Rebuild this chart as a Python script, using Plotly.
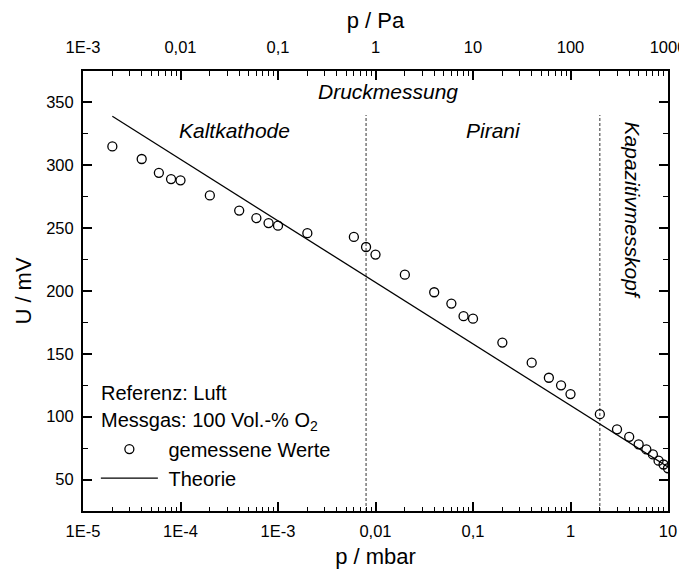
import plotly.graph_objects as go

# ---- data ----
p_mbar = [2e-5, 4e-5, 6e-5, 8e-5, 1e-4, 2e-4, 4e-4, 6e-4, 8e-4, 1e-3, 2e-3,
          6e-3, 8e-3, 1e-2, 2e-2, 4e-2, 6e-2, 8e-2, 0.1, 0.2, 0.4, 0.6, 0.8,
          1, 2, 3, 4, 5, 6, 7, 8, 9, 10]
U_mV = [315, 305, 294, 289, 288, 276, 264, 258, 254, 252, 246,
        243, 235, 229, 213, 199, 190, 180, 178, 159, 143, 131, 125,
        118, 102, 90, 84, 78, 74, 70, 65, 62, 59]

theory_p = [2e-5, 10]
theory_U = [339, 60]

boundaries_mbar = [0.008, 2]
boundary_U = [25, 340]

x_tickvals = [1e-5, 1e-4, 1e-3, 1e-2, 1e-1, 1, 10]
x_ticktext = ["1E-5", "1E-4", "1E-3", "0,01", "0,1", "1", "10"]
x2_tickvals = [1e-3, 1e-2, 1e-1, 1, 10, 100, 1000]
x2_ticktext = ["1E-3", "0,01", "0,1", "1", "10", "100", "1000"]
y_tickvals = [50, 100, 150, 200, 250, 300, 350]

FONT = "Liberation Sans, Arial, sans-serif"
NB = "\u00a0"

def minor_vals(lo_exp, hi_exp):
    vals = []
    for e in range(lo_exp, hi_exp):
        for d in range(2, 10):
            vals.append(d * 10 ** e)
    return vals

fig = go.Figure()

for b in boundaries_mbar:
    fig.add_trace(go.Scatter(
        x=[b, b], y=boundary_U, mode="lines",
        line=dict(color="#333333", width=1, dash="3px,2px"),
        showlegend=False, hoverinfo="skip"))

fig.add_trace(go.Scatter(
    x=p_mbar, y=U_mV, mode="markers", name=NB + "gemessene Werte",
    marker=dict(symbol="circle-open", size=9, color="black",
                line=dict(color="black", width=1.3)),
    legendgroup="a"))

fig.add_trace(go.Scatter(
    x=theory_p, y=theory_U, mode="lines", name=NB + "Theorie",
    line=dict(color="black", width=1.3), legendgroup="b"))

# invisible trace to activate the top (Pa) axis
fig.add_trace(go.Scatter(
    x=[p * 100 for p in theory_p], y=theory_U, xaxis="x2", mode="lines",
    line=dict(width=0), opacity=0, showlegend=False, hoverinfo="skip"))

axis_common = dict(showgrid=False, zeroline=False, showline=True,
                   linecolor="black", linewidth=2, ticks="inside",
                   ticklen=9, tickwidth=1.5, tickcolor="black",
                   automargin=False,
                   tickfont=dict(family=FONT, size=16.5, color="black"))

# page body adds an 8px offset, so the figure is sized to fit the window
fig.update_layout(
    width=679, height=565,
    margin=dict(l=75, r=19, t=63, b=62),
    paper_bgcolor="white", plot_bgcolor="white",
    font=dict(family=FONT, color="black"),
    xaxis=dict(type="log", range=[-5, 1], tickvals=x_tickvals,
               ticktext=x_ticktext,
               minor=dict(tickvals=minor_vals(-5, 1), ticks="inside",
                          ticklen=4.5, tickwidth=1.2, tickcolor="black"),
               title=dict(text="p / mbar", font=dict(family=FONT, size=22),
                          standoff=10),
               ticklabelstandoff=4,
               **axis_common),
    xaxis2=dict(type="log", range=[-3, 3], overlaying="x", side="top",
                anchor="y", tickvals=x2_tickvals, ticktext=x2_ticktext,
                minor=dict(tickvals=minor_vals(-3, 3), ticks="inside",
                           ticklen=4.5, tickwidth=1.2, tickcolor="black"),
                title=dict(text="p / Pa", font=dict(family=FONT, size=22),
                           standoff=17),
                ticklabelstandoff=9,
                **axis_common),
    yaxis=dict(range=[25, 375], tickvals=y_tickvals, mirror="ticks",
               minor=dict(dtick=25, tick0=25, ticks="inside", ticklen=5,
                          tickwidth=1.2, tickcolor="black"),
               title=dict(text="U / mV", font=dict(family=FONT, size=22),
                          standoff=8),
               ticklabelstandoff=4,
               **axis_common),
    legend=dict(x=0.022, xanchor="left", y=0.185, yanchor="top",
                bgcolor="rgba(0,0,0,0)", font=dict(family=FONT, size=20),
                tracegroupgap=0, itemwidth=57),
    showlegend=True,
)

annots = [
    dict(text="Druckmessung", x=0.522, y=0.954),
    dict(text="Kaltkathode", x=0.259, y=0.865),
    dict(text="Pirani", x=0.701, y=0.865),
    dict(text="Kapazitivmesskopf", x=0.94, y=0.683, textangle=90),
]
for a in annots:
    fig.add_annotation(xref="paper", yref="paper", showarrow=False,
                       font=dict(family=FONT, size=21, color="black",
                                 style="italic"),
                       xanchor="center", yanchor="middle", **a)

for txt, yp in [("Referenz: Luft", 0.268),
                ("Messgas: 100 Vol.-% O<sub>2</sub>", 0.203)]:
    fig.add_annotation(xref="paper", yref="paper", x=0.027, y=yp,
                       text=txt, showarrow=False, xanchor="left",
                       yanchor="middle",
                       font=dict(family=FONT, size=20, color="black"))

fig.write_html("out.html")
